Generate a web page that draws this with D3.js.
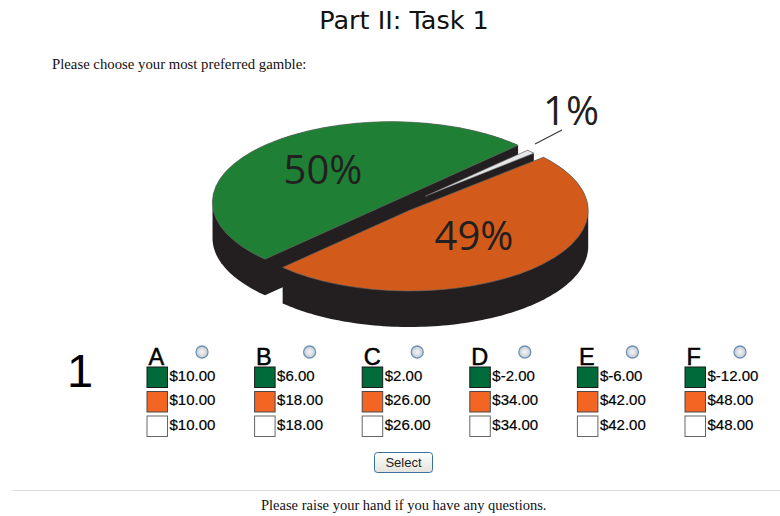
<!DOCTYPE html>
<html>
<head>
<meta charset="utf-8">
<script src="https://cdn.jsdelivr.net/npm/d3@7"></script>
<style>
  html, body { margin: 0; padding: 0; background: #fff; overflow: hidden; }
  svg { display: block; }
</style>
</head>
<body>
<svg id="chart"></svg>
<script>
// slice values, starting clockwise from the upper right end of the cut
const sliceLabels = ["1%", "49%", "50%"];
const sliceValues = [1, 49, 50];
const sliceColors = ["#e6e7e8", "#d25b1c", "#1f8035"];

const options = ["A", "B", "C", "D", "E", "F"];
const greenPayoffs = ["$10.00", "$6.00", "$2.00", "$-2.00", "$-6.00", "$-12.00"];
const orangePayoffs = ["$10.00", "$18.00", "$26.00", "$34.00", "$42.00", "$48.00"];
const whitePayoffs = ["$10.00", "$18.00", "$26.00", "$34.00", "$42.00", "$48.00"];

const W = 780, H = 516;
const svg = d3.select("#chart").attr("width", W).attr("height", H);
const serif = "'Liberation Serif', serif";
const sans = "'Liberation Sans', Arial, sans-serif";

svg.append("text")
    .attr("x", 404).attr("y", 29)
    .attr("text-anchor", "middle")
    .attr("font-family", "'DejaVu Sans', sans-serif")
    .attr("font-size", 25.5)
    .attr("fill", "#111")
    .text("Part II: Task 1");

svg.append("text")
    .attr("x", 52).attr("y", 69)
    .attr("font-family", serif)
    .attr("font-size", 14.75)
    .attr("fill", "#111")
    .text("Please choose your most preferred gamble:");

// exploded 3d pie
const cx = 401, cy = 206.5, squash = 0.45, depth = 36;
const radii = [145, 179, 179];
const explode = [33, 12, 13.4];
const dark = "#231f20";

const pie = d3.pie().sort(null)
    .startAngle(Math.PI / 4)
    .endAngle(Math.PI / 4 + 2 * Math.PI);
const arcs = pie(sliceValues);

// slices are at most a half circle, so the wall is just the hull of top and bottom
function wallPath(d, r) {
    const pts = [[0, 0], [0, depth]];
    d3.range(0, 121).forEach(k => {
        const a = d.startAngle + (d.endAngle - d.startAngle) * k / 120;
        const px = r * Math.sin(a), py = -r * Math.cos(a) * squash;
        pts.push([px, py], [px, py + depth]);
    });
    return "M" + d3.polygonHull(pts).join("L") + "Z";
}

const pieG = svg.append("g");
// green first, orange last so it covers the wall of the sliver
[2, 0, 1].forEach(i => {
    const d = arcs[i];
    const mid = (d.startAngle + d.endAngle) / 2;
    const ox = cx + explode[i] * Math.sin(mid);
    const oy = cy - explode[i] * Math.cos(mid) * squash;
    const arc = d3.arc().innerRadius(0).outerRadius(radii[i]);

    pieG.append("path")
        .attr("d", wallPath(d, radii[i]))
        .attr("transform", `translate(${ox},${oy})`)
        .attr("fill", dark);

    pieG.append("path")
        .attr("d", arc(d))
        .attr("transform", `translate(${ox},${oy}) scale(1,${squash})`)
        .attr("fill", sliceColors[i])
        .attr("stroke", "#6b6b6b")
        .attr("stroke-width", 0.6)
        .attr("vector-effect", "non-scaling-stroke");
});

// percent labels
const labelX = [571, 474, 323];
const labelY = [125, 250, 184];
sliceLabels.forEach((t, i) => {
    svg.append("text")
        .attr("x", labelX[i]).attr("y", labelY[i])
        .attr("text-anchor", "middle")
        .attr("font-family", "'Open Sans', sans-serif")
        .attr("font-size", 40)
        .attr("fill", dark)
        .text(t);
});
svg.append("line")
    .attr("x1", 535).attr("y1", 144)
    .attr("x2", 562).attr("y2", 130)
    .attr("stroke", "#3a3a3a")
    .attr("stroke-width", 1.2);

// gamble table
svg.append("text")
    .attr("x", 67).attr("y", 387)
    .attr("font-family", sans)
    .attr("font-size", 47)
    .attr("fill", "#000")
    .text("1");

const defs = svg.append("defs");
const radioGrad = defs.append("radialGradient").attr("id", "radio");
radioGrad.append("stop").attr("offset", "0%").attr("stop-color", "#f4f6f8");
radioGrad.append("stop").attr("offset", "100%").attr("stop-color", "#c4cbd3");

const x = d3.scalePoint().domain(options).range([146, 684]);
const rowColors = ["#006b3a", "#f26522", "#ffffff"];
const rowBorder = ["#1a1a1a", "#4a4a4a", "#666"];
const rowTop = [367, 391.5, 416];
const rowBase = [381, 405, 429.5];
const rows = [greenPayoffs, orangePayoffs, whitePayoffs];

const cols = svg.selectAll(".opt")
    .data(options)
    .enter().append("g")
    .attr("class", "opt")
    .attr("transform", d => `translate(${x(d)},0)`);

cols.append("text")
    .attr("x", 2.5).attr("y", 365)
    .attr("font-family", sans)
    .attr("font-size", 23.5)
    .attr("stroke", "#000")
    .attr("stroke-width", 0.5)
    .text(d => d);

cols.append("circle")
    .attr("cx", 56).attr("cy", 352)
    .attr("r", 6)
    .attr("fill", "url(#radio)")
    .attr("stroke", "#6f93b5")
    .attr("stroke-width", 1.3);

rows.forEach((vals, r) => {
    cols.append("rect")
        .attr("x", 1).attr("y", rowTop[r])
        .attr("width", 20.5).attr("height", 20.5)
        .attr("fill", rowColors[r])
        .attr("stroke", rowBorder[r])
        .attr("stroke-width", 1);
    cols.append("text")
        .attr("x", 23.5).attr("y", rowBase[r])
        .attr("font-family", sans)
        .attr("font-size", 15)
        .attr("fill", "#000")
        .attr("stroke", "#000")
        .attr("stroke-width", 0.2)
        .text((d, i) => vals[i]);
});

// select button
const btnGrad = defs.append("linearGradient").attr("id", "btn")
    .attr("x1", 0).attr("y1", 0).attr("x2", 0).attr("y2", 1);
btnGrad.append("stop").attr("offset", "0%").attr("stop-color", "#ffffff");
btnGrad.append("stop").attr("offset", "100%").attr("stop-color", "#e4e3da");

svg.append("rect")
    .attr("x", 374.5).attr("y", 452.5)
    .attr("width", 58).attr("height", 20)
    .attr("rx", 3)
    .attr("fill", "url(#btn)")
    .attr("stroke", "#3c6f9c");
svg.append("text")
    .attr("x", 403.5).attr("y", 467)
    .attr("text-anchor", "middle")
    .attr("font-family", sans)
    .attr("font-size", 13)
    .attr("fill", "#222")
    .text("Select");

svg.append("line")
    .attr("x1", 13).attr("y1", 490.5)
    .attr("x2", 780).attr("y2", 490.5)
    .attr("stroke", "#dcdcdc");

svg.append("text")
    .attr("x", 261).attr("y", 510)
    .attr("font-family", serif)
    .attr("font-size", 14.5)
    .attr("fill", "#111")
    .text("Please raise your hand if you have any questions.");
</script>
</body>
</html>
